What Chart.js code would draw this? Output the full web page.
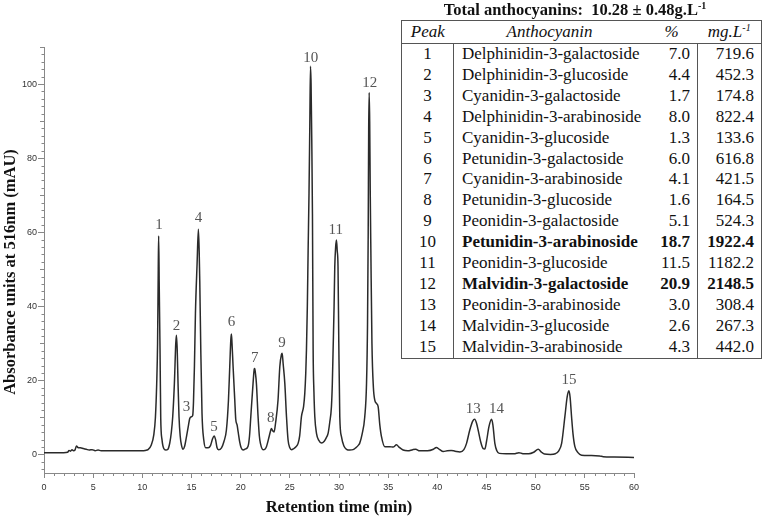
<!DOCTYPE html>
<html>
<head>
<meta charset="utf-8">
<script src="https://cdn.jsdelivr.net/npm/chart.js@4.4.1/dist/chart.umd.min.js"></script>
<style>
  html, body { margin:0; padding:0; background:#fff; }
  #wrap { position:relative; width:762px; height:520px; overflow:hidden; }
  #c { position:absolute; left:0; top:0; }
  #ttl { position:absolute; left:390px; width:370px; top:0; height:20px; line-height:20px; text-align:center;
         font-family:'Liberation Serif','Times New Roman',serif; font-weight:bold; font-size:16.5px; color:#111; }
  #ttl sup { font-size:10px; line-height:0; vertical-align:6px; }
  #tbl { position:absolute; left:401px; top:20px; width:360px; border-collapse:collapse; table-layout:fixed;
         font-family:'Liberation Serif','Times New Roman',serif; font-size:17px; color:#111; background:#fff;
         border:1px solid #555; }
  #tbl th { font-weight:normal; font-style:italic; height:22px; line-height:22px; padding:0; border-bottom:1px solid #555; }
  #tbl th sup, #tbl td sup { font-size:10px; line-height:0; vertical-align:6px; }
  #tbl td { height:20.9px; line-height:20.9px; padding:0; white-space:nowrap; }
  #tbl td.pk { text-align:center; border-right:1px solid #555; }
  #tbl td.nm { text-align:left; padding-left:8px; }
  #tbl td.pc { text-align:right; padding-right:7px; border-right:1px solid #555; }
  #tbl td.mg { text-align:right; padding-right:7px; }
  #tbl tr.b td.nm, #tbl tr.b td.pc, #tbl tr.b td.mg { font-weight:bold; }
</style>
</head>
<body>
<div id="wrap">
  <canvas id="c" width="762" height="520"></canvas>
  <div id="ttl">Total anthocyanins:&nbsp; 10.28 ± 0.48g.L<sup>-1</sup></div>
  <table id="tbl">
    <colgroup><col style="width:52px"><col style="width:192px"><col style="width:52px"><col style="width:64px"></colgroup>
    <thead><tr><th>Peak</th><th>Anthocyanin</th><th>%</th><th>mg.L<sup>-1</sup></th></tr></thead>
    <tbody id="tb"></tbody>
  </table>
</div>
<script>
// ---- chromatogram trace (retention time in min, absorbance in mAU) ----
const retentionTime = [
  0, 1.0, 2.0, 2.4, 2.55, 2.7, 2.85, 3.0, 3.15, 3.3, 3.45, 3.7, 4.0, 4.3, 4.6, 4.9, 5.2, 5.5, 5.8, 7.0, 8.5, 10.0, 10.3,
  10.58, 10.9, 11.16, 11.33, 11.46, 11.55, 11.62, 11.66, 11.72, 11.8, 11.87, 12.0, 12.18, 12.38,
  12.6, 12.79, 12.95, 13.09, 13.26, 13.4, 13.47, 13.55, 13.63, 13.73, 13.85, 13.98, 14.14,
  14.3, 14.49, 14.7, 14.82, 15.0, 15.12, 15.2, 15.3, 15.4, 15.57, 15.7, 15.78, 15.84, 15.94, 16.07, 16.25, 16.45,
  16.7, 16.93, 17.15, 17.3, 17.45, 17.6, 17.75,
  18.05, 18.3, 18.55, 18.76, 18.89, 19.0, 19.06, 19.12, 19.23, 19.4, 19.5, 19.64, 19.75, 19.9, 20.05, 20.24,
  20.5, 20.75, 20.9, 21.03, 21.26, 21.38, 21.43, 21.5, 21.6, 21.77, 21.9, 22.01, 22.28,
  22.45, 22.62, 22.89, 23.05, 23.13, 23.25, 23.4, 23.55, 23.8, 23.98, 24.15, 24.22, 24.32, 24.49, 24.66, 24.82, 25.0, 25.17,
  25.4, 25.6, 25.84, 26.0, 26.18, 26.4, 26.52, 26.62, 26.69, 26.78, 26.86, 26.95, 27.03, 27.1, 27.16, 27.23, 27.3,
  27.37, 27.45, 27.54, 27.71, 27.95, 28.22,
  28.5, 28.7, 28.89, 29.05, 29.23, 29.32, 29.4, 29.5, 29.57, 29.66, 29.74, 29.82, 29.9, 29.98, 30.08, 30.25, 30.5, 30.76,
  31.1, 31.43, 31.7, 32.0, 32.1, 32.35, 32.62, 32.8, 32.9, 32.97, 33.02, 33.07, 33.12, 33.18, 33.24, 33.35, 33.5, 33.64,
  33.8, 33.98, 34.15, 34.32, 34.66, 35.17, 35.5, 35.85, 36.1, 36.52, 37.0, 37.5, 37.8, 38.2, 39.0, 39.6, 39.9, 40.2, 40.6,
  41.0, 41.4, 41.8, 42.3, 42.7, 42.97, 43.3, 43.6, 43.8, 44.0, 44.15, 44.4, 44.66, 44.83, 45.0, 45.25, 45.51, 45.65, 45.85,
  46.05, 46.3, 47.0, 47.8, 48.3, 48.7, 49.3, 49.8, 50.26, 50.6, 50.9, 51.5, 52.0, 52.35, 52.64, 52.97, 53.2, 53.38, 53.5,
  53.65, 53.8, 53.99, 54.3, 54.67, 55.5, 56.5, 56.87, 58.0, 60.0
];
const absorbance = [
  0.5, 0.5, 0.5, 0.6, 1.1, 0.9, 1.3, 1.0, 1.2, 2.3, 1.9, 1.8, 1.6, 1.4, 1.2, 1.3, 1.0, 1.2, 1.0, 1.0, 1.0, 1.0, 1.1,
  1.3, 2.5, 5.2, 10, 19, 30, 50, 59, 45, 28, 10, 4, 1.6, 1.2,
  1.4, 3.1, 6, 10.2, 19.2, 30, 32.2, 28, 19.2, 10.2, 5, 2.5, 1.4,
  2.2, 4.8, 8, 9.7, 10.2, 10.5, 14, 24, 38, 51.6, 60.8, 55, 47, 29, 11, 3.9, 1.8,
  1.8, 2.4, 4.3, 5.0, 4.0, 1.8, 1.3,
  1.8, 3.5, 6.6, 14.7, 23.7, 31, 32.5, 30, 23.7, 14.7, 9.5, 7.9, 6, 3.4, 1.8, 1.2,
  1.5, 2.2, 5, 10.2, 19.2, 23, 23.2, 22, 19.2, 10.2, 5.0, 3.0, 1.3,
  1.4, 2.1, 4.8, 6.5, 7.0, 6.4, 6.1, 8.5, 14.7, 23.7, 27, 27.3, 24.5, 19.2, 10.2, 3.9, 1.8, 1.3,
  1.6, 2.0, 3.0, 5, 10.2, 13, 16.5, 22, 28.2, 40, 55, 70.5, 88.5, 104.8, 100, 85, 65,
  28.2, 17, 10.2, 5.7, 3.8, 3.1,
  3.6, 4.5, 5.7, 8.5, 12.9, 19, 28.2, 40, 50.7, 56, 57.9, 55, 50.7, 30, 10.2, 4.8, 2.3, 1.4,
  1.2, 1.3, 1.8, 2.6, 3.0, 5.5, 10.2, 19.2, 35, 60, 88, 97.7, 90, 70, 55, 30, 18, 14.7,
  13.8, 12.9, 8, 4.8, 2.1, 2.1, 2.0, 2.6, 2.0, 1.2, 1.0, 1.3, 1.4, 1.0, 1.0, 1.4, 1.9, 1.4, 0.8,
  1.0, 1.1, 0.9, 0.7, 1.3, 3.0, 6.6, 9.0, 9.5, 8.3, 6.6, 3.5, 1.6, 1.5, 3.5, 7.5, 9.5, 8.0, 3.0,
  1.0, 0.3, 0.2, 0.2, 0.5, 0.2, 0.2, 0.6, 1.4, 0.6, 0.1, 0.0, 0.2, 1.0, 3.0, 10.2, 15.5, 17.2, 15.5,
  10.2, 5.5, 2.1, 0.5, -0.2, -0.3, -0.4, -0.6, -0.7, -0.8
];

// ---- peak number labels (anchored in data units) ----
const peakLabels = ['1','2','3','4','5','6','7','8','9','10','11','12','13','14','15'];
const peakLabelTime  = [11.7, 13.47, 14.49, 15.71, 17.29, 19.06, 21.43, 23.06, 24.21, 27.13, 29.67, 33.13, 43.64, 46.02, 53.38];
const peakLabelValue = [62.0, 34.8, 12.9, 63.8, 7.3, 35.8, 26.1, 9.7, 30.0, 107.1, 60.6, 100.3, 12.2, 12.2, 20.1];

// ---- axis ticks ----
const xTickValues = [0, 5, 10, 15, 20, 25, 30, 35, 40, 45, 50, 55, 60];
const yTickValues = [0, 20, 40, 60, 80, 100];

// ---- table ----
const tablePeaks = [1,2,3,4,5,6,7,8,9,10,11,12,13,14,15];
const tableNames = ['Delphinidin-3-galactoside','Delphinidin-3-glucoside','Cyanidin-3-galactoside','Delphinidin-3-arabinoside',
  'Cyanidin-3-glucoside','Petunidin-3-galactoside','Cyanidin-3-arabinoside','Petunidin-3-glucoside','Peonidin-3-galactoside',
  'Petunidin-3-arabinoside','Peonidin-3-glucoside','Malvidin-3-galactoside','Peonidin-3-arabinoside','Malvidin-3-glucoside',
  'Malvidin-3-arabinoside'];
const tablePercent = ['7.0','4.4','1.7','8.0','1.3','6.0','4.1','1.6','5.1','18.7','11.5','20.9','3.0','2.6','4.3'];
const tableConc = ['719.6','452.3','174.8','822.4','133.6','616.8','421.5','164.5','524.3','1922.4','1182.2','2148.5','308.4','267.3','442.0'];
const tableBoldPeaks = [10, 12];

// build table
const tb = document.getElementById('tb');
tablePeaks.forEach((p, i) => {
  const tr = document.createElement('tr');
  if (tableBoldPeaks.includes(p)) tr.className = 'b';
  [['pk', p], ['nm', tableNames[i]], ['pc', tablePercent[i]], ['mg', tableConc[i]]].forEach(([cls, txt]) => {
    const td = document.createElement('td'); td.className = cls; td.textContent = txt; tr.appendChild(td);
  });
  tb.appendChild(tr);
});

const points = retentionTime.map((t, i) => ({ x: t, y: absorbance[i] }));

const extrasPlugin = {
  id: 'extras',
  afterDraw(chart) {
    const { ctx, scales: { x, y } } = chart;
    ctx.save();
    // minor ticks
    ctx.strokeStyle = '#888'; ctx.lineWidth = 1;
    ctx.beginPath();
    for (let v = -4; v <= 110; v += 2) {
      if (v % 20 === 0) continue;
      const py = Math.round(y.getPixelForValue(v)) + 0.5;
      const len = (v % 10 === 0) ? 4 : 2.5;
      ctx.moveTo(x.left - len, py); ctx.lineTo(x.left, py);
    }
    for (let t = 1; t < 60; t += 1) {
      if (t % 5 === 0) continue;
      const px = Math.round(x.getPixelForValue(t)) + 0.5;
      ctx.moveTo(px, y.bottom); ctx.lineTo(px, y.bottom + 3);
    }
    ctx.stroke();
    // peak labels
    ctx.fillStyle = '#555';
    ctx.font = '15px "Liberation Serif", "Times New Roman", serif';
    ctx.textAlign = 'center'; ctx.textBaseline = 'middle';
    peakLabels.forEach((lab, i) => {
      ctx.fillText(lab, x.getPixelForValue(peakLabelTime[i]), y.getPixelForValue(peakLabelValue[i]));
    });
    // y axis title
    ctx.fillStyle = '#111';
    ctx.font = 'bold 16.5px "Liberation Serif", "Times New Roman", serif';
    ctx.translate(11, 272);
    ctx.rotate(-Math.PI / 2);
    ctx.fillText('Absorbance units at 516nm (mAU)', 0, 0);
    ctx.restore();
  }
};

new Chart(document.getElementById('c'), {
  type: 'line',
  data: {
    datasets: [{
      data: points,
      borderColor: '#2a2a2a',
      borderWidth: 1.5,
      pointRadius: 0,
      fill: false,
      cubicInterpolationMode: 'monotone'
    }]
  },
  options: {
    responsive: false,
    animation: false,
    devicePixelRatio: 1,
    layout: { padding: { top: 47, right: 128, left: 0, bottom: 0 } },
    plugins: { legend: { display: false }, tooltip: { enabled: false } },
    scales: {
      x: {
        type: 'linear', min: 0, max: 60,
        afterBuildTicks: s => { s.ticks = xTickValues.map(v => ({ value: v })); },
        afterFit: s => { s.height = 47; },
        grid: { drawOnChartArea: false, tickLength: 5, color: '#888' },
        border: { color: '#888', width: 1 },
        ticks: { font: { family: 'Liberation Sans', size: 9 }, color: '#333', padding: 4, maxRotation: 0, autoSkip: false },
        title: { display: true, text: 'Retention time (min)', color: '#111',
                 font: { family: 'Liberation Serif', size: 16.5, weight: 'bold' }, padding: { top: 2, bottom: 2 } }
      },
      y: {
        type: 'linear', min: -5, max: 110,
        afterBuildTicks: s => { s.ticks = yTickValues.map(v => ({ value: v })); },
        afterFit: s => { s.width = 44; },
        grid: { drawOnChartArea: false, tickLength: 6, color: '#888' },
        border: { color: '#888', width: 1 },
        ticks: { font: { family: 'Liberation Sans', size: 9 }, color: '#333', padding: 1 },
        title: { display: false }
      }
    }
  },
  plugins: [extrasPlugin]
});
</script>
</body>
</html>
